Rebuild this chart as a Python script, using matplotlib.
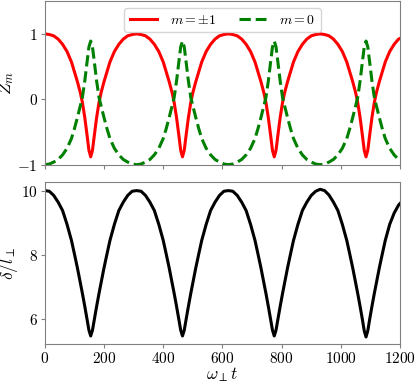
import numpy as np
import matplotlib
matplotlib.use("Agg")
import matplotlib.pyplot as plt
from matplotlib.ticker import FuncFormatter

plt.rcParams['mathtext.fontset'] = 'cm'
plt.rcParams['font.family'] = 'serif'
plt.rcParams['font.serif'] = ['cmr10', 'DejaVu Serif']
plt.rcParams['axes.unicode_minus'] = False

# time axis (omega_perp t)
t = [0, 15, 30, 45, 60, 75, 90, 100, 110, 120, 127, 135, 143, 149, 155,
     161, 167, 175, 183, 190, 200, 210, 220, 235, 250, 265, 280, 295,
     310, 325, 340, 355, 370, 385, 400, 410, 420, 430, 437, 445, 453, 459, 465,
     471, 477, 485, 493, 500, 510, 520, 530, 545, 560, 575, 590, 605,
     620, 635, 650, 665, 680, 695, 710, 720, 730, 740, 747, 755, 763, 769, 775,
     781, 787, 795, 803, 810, 820, 830, 840, 855, 870, 885, 900, 915,
     930, 945, 960, 975, 990, 1005, 1020, 1030, 1040, 1050, 1057, 1065, 1073, 1079, 1085,
     1091, 1097, 1105, 1113, 1120, 1130, 1140, 1150, 1165, 1180, 1195, 1200]

# Z for m = +-1
z_pm1 = [1.00, 0.99, 0.97, 0.92, 0.84, 0.73, 0.57, 0.42, 0.27, 0.10, -0.05, -0.28, -0.56, -0.78, -0.88,
         -0.78, -0.56, -0.28, -0.05, 0.10, 0.27, 0.42, 0.57, 0.73, 0.84, 0.92, 0.97, 0.99,
         1.00, 0.99, 0.97, 0.92, 0.84, 0.73, 0.57, 0.42, 0.27, 0.10, -0.05, -0.28, -0.56, -0.78, -0.88,
         -0.78, -0.56, -0.28, -0.05, 0.10, 0.27, 0.42, 0.57, 0.73, 0.84, 0.92, 0.97, 0.99,
         1.00, 0.99, 0.97, 0.92, 0.84, 0.73, 0.57, 0.42, 0.27, 0.10, -0.05, -0.28, -0.56, -0.78, -0.88,
         -0.78, -0.56, -0.28, -0.05, 0.10, 0.27, 0.42, 0.57, 0.73, 0.84, 0.92, 0.97, 0.99,
         1.00, 0.99, 0.97, 0.92, 0.84, 0.73, 0.57, 0.42, 0.27, 0.10, -0.05, -0.28, -0.56, -0.78, -0.88,
         -0.78, -0.56, -0.28, -0.05, 0.10, 0.27, 0.42, 0.57, 0.73, 0.84, 0.92, 0.93]

# Z for m = 0
z_0 = [-1.00, -0.99, -0.96, -0.92, -0.85, -0.75, -0.60, -0.45, -0.28, -0.10, 0.03, 0.28, 0.58, 0.80, 0.89,
       0.80, 0.58, 0.28, 0.03, -0.10, -0.28, -0.45, -0.60, -0.75, -0.85, -0.92, -0.96, -0.99,
       -1.00, -0.99, -0.96, -0.92, -0.85, -0.75, -0.60, -0.45, -0.28, -0.10, 0.03, 0.28, 0.58, 0.80, 0.89,
       0.80, 0.58, 0.28, 0.03, -0.10, -0.28, -0.45, -0.60, -0.75, -0.85, -0.92, -0.96, -0.99,
       -1.00, -0.99, -0.96, -0.92, -0.85, -0.75, -0.60, -0.45, -0.28, -0.10, 0.03, 0.28, 0.58, 0.80, 0.89,
       0.80, 0.58, 0.28, 0.03, -0.10, -0.28, -0.45, -0.60, -0.75, -0.85, -0.92, -0.96, -0.99,
       -1.00, -0.99, -0.96, -0.92, -0.85, -0.75, -0.60, -0.45, -0.28, -0.10, 0.03, 0.28, 0.58, 0.80, 0.89,
       0.80, 0.58, 0.28, 0.03, -0.10, -0.28, -0.45, -0.60, -0.75, -0.85, -0.92, -0.92]

# soliton separation delta / l_perp
delta = [10.00, 9.98, 9.85, 9.64, 9.38, 8.95, 8.45, 8.03, 7.60, 7.13, 6.80, 6.40, 5.98, 5.66, 5.48,
         5.66, 5.98, 6.40, 6.80, 7.13, 7.60, 8.03, 8.45, 8.95, 9.38, 9.64, 9.85, 9.98,
         10.00, 9.98, 9.85, 9.64, 9.38, 8.95, 8.45, 8.03, 7.60, 7.13, 6.80, 6.40, 5.98, 5.66, 5.48,
         5.66, 5.98, 6.40, 6.80, 7.13, 7.60, 8.03, 8.45, 8.95, 9.38, 9.64, 9.85, 9.98,
         10.00, 9.98, 9.85, 9.64, 9.38, 8.95, 8.45, 8.03, 7.60, 7.13, 6.80, 6.40, 5.98, 5.66, 5.48,
         5.66, 5.98, 6.40, 6.80, 7.13, 7.60, 8.03, 8.45, 8.95, 9.38, 9.64, 9.85, 9.98,
         10.04, 10.00, 9.86, 9.64, 9.38, 8.95, 8.45, 8.03, 7.60, 7.13, 6.80, 6.40, 5.98, 5.64, 5.45,
         5.64, 5.98, 6.40, 6.80, 7.13, 7.60, 8.03, 8.45, 8.95, 9.30, 9.55, 9.60]

fig = plt.figure(figsize=(4.15, 3.83), dpi=100)
ax1 = fig.add_axes([0.108, 0.570, 0.856, 0.427])
ax2 = fig.add_axes([0.108, 0.101, 0.856, 0.424])

ax1.plot(t, z_pm1, color='red', lw=2.2, label=r'$m=\pm1$')
ax1.plot(t, z_0, color='green', lw=2.2, ls='--', label=r'$m=0$')
ax1.set_xlim(0, 1200)
ax1.set_ylim(-1, 1.5)
ax1.set_yticks([-1, 0, 1])
ax1.set_xticks([0, 200, 400, 600, 800, 1000, 1200])
ax1.set_xticklabels([])
ax1.set_ylabel(r'$Z_m$', fontsize=12.5, labelpad=1)
ax1.legend(loc='upper center', ncol=2, fontsize=10, handlelength=2.0,
           columnspacing=1.6, borderaxespad=0.5, handletextpad=0.9)

ax2.plot(t, delta, color='black', lw=2.2)
ax2.set_xlim(0, 1200)
ax2.set_yticks([6, 8, 10])
ax2.set_xticks([0, 200, 400, 600, 800, 1000, 1200])
ax2.set_ylabel(r'$\delta/l_\perp$', fontsize=12.5, labelpad=1)
ax2.set_xlabel(r'$\omega_\perp t$', fontsize=12.5, labelpad=-1)

fmt = FuncFormatter(lambda v, p: r'$%g$' % v)
for ax in (ax1, ax2):
    ax.yaxis.set_major_formatter(fmt)
    if ax is ax2:
        ax.xaxis.set_major_formatter(fmt)
    ax.tick_params(labelsize=11, color='gray', length=3, pad=2)
    for sp in ax.spines.values():
        sp.set_color('gray')

fig.savefig('out.png', dpi=100)
